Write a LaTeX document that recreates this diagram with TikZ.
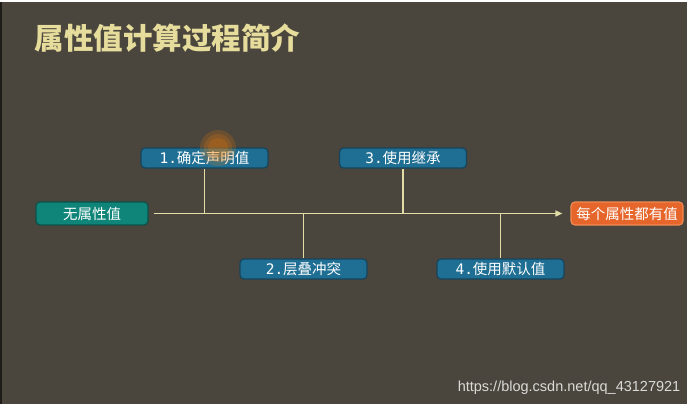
\documentclass[tikz,border=0pt]{standalone}
\usepackage{fontspec}
\setmainfont{Noto Sans CJK SC}
\newfontfamily\urlfont{Liberation Sans}
\newfontfamily\numfont{DejaVu Sans Mono}
\usetikzlibrary{arrows.meta,positioning}
\definecolor{bgcol}{HTML}{4A463D}
\definecolor{titlecol}{HTML}{E6DC9C}
\definecolor{linecol}{HTML}{E2DDA6}
\definecolor{stepfill}{HTML}{1F6F94}
\definecolor{stepline}{HTML}{16445C}
\definecolor{startfill}{HTML}{0F8579}
\definecolor{startline}{HTML}{0B5149}
\definecolor{endfill}{HTML}{E6652A}
\definecolor{endline}{HTML}{F08A55}
\newcommand{\stepnum}[1]{{\numfont #1.}}
\begin{document}
\begin{tikzpicture}[x=1pt, y=-1pt, thick,
    stepbox/.style = {draw=stepline, line width=1.2pt, fill=stepfill, rounded corners=4pt,
        minimum width=127pt, minimum height=20pt, inner sep=0pt, text=white, font=\fontsize{14.5}{16}\selectfont},
    startbox/.style = {stepbox, draw=startline, fill=startfill, minimum width=112pt, minimum height=23pt,
        font=\fontsize{14.5}{16}\selectfont},
    endbox/.style = {stepbox, draw=endline, fill=endfill, minimum width=112pt, minimum height=23pt,
        font=\fontsize{14.5}{16}\selectfont},
    link/.style = {draw=linecol, line width=1.5pt}]
    \useasboundingbox (0,0) rectangle (692,409);
    \fill[white] (0,0) rectangle (692,409);
    \fill[bgcol] (0,2) rectangle (687,404);
    \fill[black!60!bgcol] (0,2) rectangle (2,404);
    \node[text=titlecol, anchor=west, font=\fontsize{29.5}{31}\selectfont\bfseries] (title) at (31,38) {属性值计算过程简介};
    \node[startbox] (s) at (92,213.5) {无属性值};
    \node[endbox] (e) at (627,213.5) {每个属性都有值};
    \node[stepbox] (1) at (204.5,158) {\stepnum{1}确定声明值};
    \node[stepbox] (2) at (303.5,269) {\stepnum{2}层叠冲突};
    \node[stepbox] (3) at (403,158) {\stepnum{3}使用继承};
    \node[stepbox] (4) at (500.5,269) {\stepnum{4}使用默认值};
    \draw[link, -{Triangle[width=6pt,length=7pt]}, shorten <=5pt, shorten >=8pt] (s) -- (e);
    \draw[link] (1) -- (1 |- s);
    \draw[link] (2) -- (2 |- s);
    \draw[link] (3) -- (3 |- s);
    \draw[link] (4) -- (4 |- s);
    % cursor glow
    \foreach \r in {18,14,10}
        \fill[orange, opacity=0.18] (218,148) circle (\r);
    \node[text=white!80!bgcol, anchor=east, font=\urlfont\fontsize{14.5}{16}\selectfont] (url) at (684,388) {https://blog.csdn.net/qq\_43127921};
\end{tikzpicture}
\end{document}
